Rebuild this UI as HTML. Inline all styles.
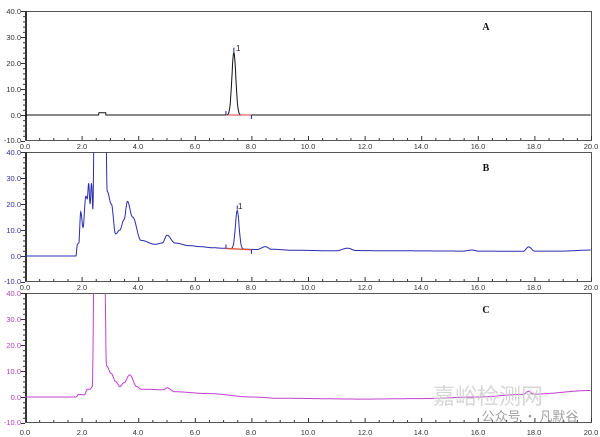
<!DOCTYPE html>
<html><head><meta charset="utf-8"><style>
html,body{margin:0;padding:0;background:#fff;}
svg{display:block;font-family:"Liberation Sans",sans-serif;}
</style></head><body>
<svg id="s" width="600" height="437" viewBox="0 0 600 437" xmlns="http://www.w3.org/2000/svg">
<defs>
<clipPath id="cA"><rect x="25" y="11" width="566" height="129"/></clipPath>
<clipPath id="cB"><rect x="25" y="152" width="566" height="129"/></clipPath>
<clipPath id="cC"><rect x="25" y="293" width="566" height="129"/></clipPath>
</defs>
<g id="frames" fill="none" stroke="#555" stroke-width="1">
<rect x="25.5" y="11.5" width="566" height="129"/>
<rect x="25.5" y="152.5" width="566" height="129"/>
<rect x="25.5" y="293.5" width="566" height="129"/>
</g>
<g id="ticks" stroke="#333" stroke-width="1"></g>
<g font-size="7.5" fill="#333" text-anchor="end">
<text x="21" y="14">40.0</text><text x="21" y="40">30.0</text><text x="21" y="66">20.0</text><text x="21" y="92">10.0</text><text x="21" y="118">0.0</text><text x="21" y="143">-10.0</text>
</g>
<g font-size="7.5" fill="#33339a" text-anchor="end">
<text x="21" y="155">40.0</text><text x="21" y="181">30.0</text><text x="21" y="207">20.0</text><text x="21" y="233">10.0</text><text x="21" y="259">0.0</text><text x="21" y="284">-10.0</text>
</g>
<g font-size="7.5" fill="#b040c0" text-anchor="end">
<text x="21" y="296">40.0</text><text x="21" y="322">30.0</text><text x="21" y="348">20.0</text><text x="21" y="374">10.0</text><text x="21" y="400">0.0</text><text x="21" y="425">-10.0</text>
</g>
<g font-size="7.5" fill="#333" text-anchor="middle">
<text x="25" y="149">0.0</text><text x="82" y="149">2.0</text><text x="138" y="149">4.0</text><text x="195" y="149">6.0</text><text x="251" y="149">8.0</text><text x="308" y="149">10.0</text><text x="365" y="149">12.0</text><text x="421" y="149">14.0</text><text x="478" y="149">16.0</text><text x="534" y="149">18.0</text><text x="591" y="149">20.0</text>
<text x="25" y="290">0.0</text><text x="82" y="290">2.0</text><text x="138" y="290">4.0</text><text x="195" y="290">6.0</text><text x="251" y="290">8.0</text><text x="308" y="290">10.0</text><text x="365" y="290">12.0</text><text x="421" y="290">14.0</text><text x="478" y="290">16.0</text><text x="534" y="290">18.0</text><text x="591" y="290">20.0</text>
<text x="25" y="435">0.0</text><text x="82" y="435">2.0</text><text x="138" y="435">4.0</text><text x="195" y="435">6.0</text><text x="251" y="435">8.0</text><text x="308" y="435">10.0</text><text x="365" y="435">12.0</text><text x="421" y="435">14.0</text><text x="478" y="435">16.0</text><text x="534" y="435">18.0</text><text x="591" y="435">20.0</text>
</g>
<g font-family="Liberation Serif,serif" font-weight="bold" font-size="10" fill="#111" text-anchor="middle">
<text x="486" y="30">A</text><text x="486" y="171">B</text><text x="486" y="313">C</text>
</g>
<g font-size="8" fill="#222"><text x="236" y="51">1</text><text x="238" y="209">1</text></g>
<g id="curves" fill="none" stroke-width="1"></g>
<text x="488" y="404" font-size="22" fill="#ccc" font-family="Noto Sans CJK SC,sans-serif" text-anchor="middle" opacity="0.8">嘉峪检测网</text>
<text x="530" y="421" font-size="13" fill="#888" font-family="Noto Sans CJK SC,sans-serif" text-anchor="middle" opacity="0.8">公众号 · 凡默谷</text>
</svg>
<script>
const X=t=>25+t*28.3;
const Y=(v,top)=>top+104-v*2.6;
const NS="http://www.w3.org/2000/svg";
function interp(pts,t){for(let i=0;i<pts.length-1;i++){if(t>=pts[i][0]&&t<=pts[i+1][0]){const a=pts[i],b=pts[i+1];const f=(t-a[0])/(b[0]-a[0]);return a[1]+(b[1]-a[1])*(0.5-0.5*Math.cos(Math.PI*f));}}return pts[pts.length-1][1];}
function path(fn,top,color,clip){let d="";for(let t=0;t<=20;t+=0.01){d+=(d?"L":"M")+X(t).toFixed(1)+","+Y(fn(t),top).toFixed(1);}
const p=document.createElementNS(NS,"path");p.setAttribute("d",d);p.setAttribute("stroke",color);p.setAttribute("clip-path","url(#"+clip+")");document.getElementById("curves").appendChild(p);}
const g=(t,c,s,h)=>h*Math.exp(-((t-c)*(t-c))/(2*s*s));
path(t=>g(t,7.38,0.07,24)+(t>2.6&&t<2.85?0.9:0),11,"#111","cA");
const B=[[0,0],[1.8,0],[1.85,4.5],[1.9,5],[1.97,17],[2.05,11],[2.15,23],[2.2,22],[2.25,28],[2.3,20],[2.35,28],[2.4,18],[2.45,60],[2.85,60],[2.9,25],[3.05,20],[3.2,8.5],[3.35,10],[3.5,14],[3.62,21],[3.8,15],[4.1,6],[4.6,4.5],[4.85,5],[5.02,8],[5.3,5],[5.8,4],[6.2,3.6],[6.6,3.2],[7.0,3],[7.3,2.8],[8.2,2.5],[8.5,3.6],[8.7,2.6],[9.5,2.2],[11.0,2.0],[11.4,3.0],[11.7,2.1],[13,2],[15.5,1.9],[15.8,2.3],[16,1.9],[17.6,1.8],[17.8,3.5],[18.0,1.9],[19,1.9],[20,2.3]];
path(t=>interp(B,t)+g(t,7.5,0.065,14.7),152,"#2b2bb0","cB");
const C=[[0,0],[1.8,0],[1.9,1],[2.1,0.8],[2.2,3],[2.3,3],[2.38,4],[2.45,60],[2.8,60],[2.88,12],[3.05,9],[3.2,6],[3.35,4],[3.5,5.5],[3.7,8.5],[3.95,4],[4.1,3],[4.9,2.8],[5.02,3.5],[5.3,2],[6.5,1.3],[8,0],[9,-0.5],[12,-0.8],[14,-0.6],[16,0],[17.6,1],[17.8,2.2],[17.95,1.1],[20,2.5]];
path(t=>interp(C,t),293,"#c040d0","cC");
// baseline markers
const cv=document.getElementById("curves");
function ln(x1,y1,x2,y2,c,w){const l=document.createElementNS(NS,"line");l.setAttribute("x1",x1);l.setAttribute("y1",y1);l.setAttribute("x2",x2);l.setAttribute("y2",y2);l.setAttribute("stroke",c);l.setAttribute("stroke-width",w||1);cv.appendChild(l);}
ln(X(7.1),115,X(8.0),115,"#d04040");ln(X(7.1),111,X(7.1),115,"#2020a0");ln(X(8.0),115,X(8.0),119,"#2020a0");
ln(X(7.1),Y(2.9,152),X(8.0),Y(2.4,152),"#e05030",1.3);ln(X(7.1),Y(2.9,152)-4,X(7.1),Y(2.9,152),"#2020a0");ln(X(8.0),Y(2.4,152),X(8.0),Y(2.4,152)+4,"#2020a0");
ln(X(7.38),Y(24,11)-5,X(7.38),Y(24,11)-1,"#2020a0");ln(X(7.5),Y(17.5,152)-5,X(7.5),Y(17.5,152)-1,"#2020a0");
// ticks
const tk=document.getElementById("ticks");
function tl(x1,y1,x2,y2){const l=document.createElementNS(NS,"line");l.setAttribute("x1",x1);l.setAttribute("y1",y1);l.setAttribute("x2",x2);l.setAttribute("y2",y2);tk.appendChild(l);}
[11,152,293].forEach(top=>{
 tl(25.5,top,25.5,top+129);tl(26.5,top,26.5,top+129);
 for(let v=-10;v<=40;v+=2){const y=Y(v,top)+0.5;tl(v%10==0?21:23,y,25,y);}
 for(let t=0;t<=20;t+=0.5){const x=X(t)+0.5;tl(x,top+129,x,top+129-(t%2==0?4:2));}
});
</script>
</body></html>
